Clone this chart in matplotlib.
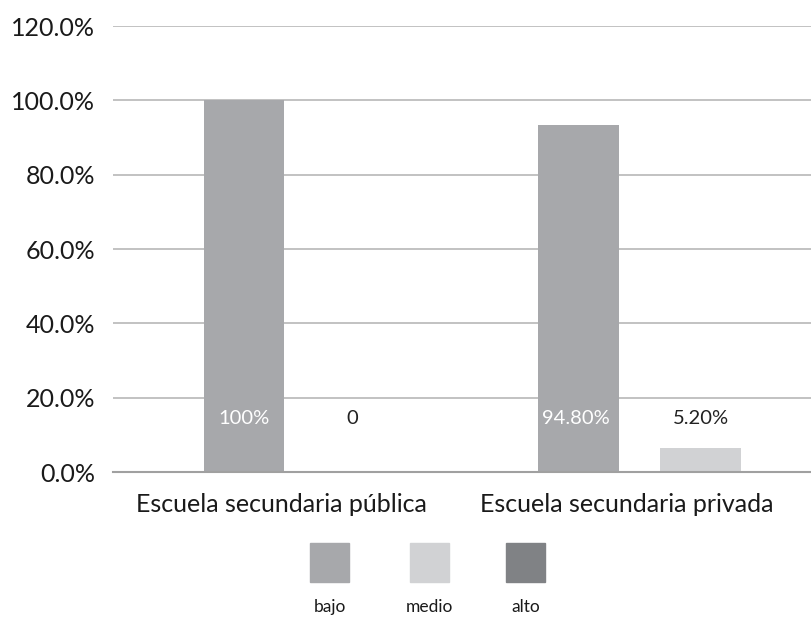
import matplotlib
matplotlib.use("Agg")
import matplotlib.pyplot as plt
from matplotlib.patches import Rectangle
import numpy as np

plt.rcParams['font.family'] = ['Lato', 'DejaVu Sans']

categories = ["Escuela secundaria pública", "Escuela secundaria privada"]
series_names = ["bajo", "medio", "alto"]
bajo = [100.0, 93.4]
medio = [0.0, 6.5]
alto = [0.0, 0.0]
bar_labels = {"bajo": ["100%", "94.80%"], "medio": ["0", "5.20%"], "alto": ["", ""]}
yticks = [0, 20, 40, 60, 80, 100, 120]
ytick_labels = ["0.0%", "20.0%", "40.0%", "60.0%", "80.0%", "100.0%", "120.0%"]

colors = {"bajo": "#a7a8ab", "medio": "#d1d2d4", "alto": "#808285"}
label_colors = {"bajo": "white", "medio": "#222222", "alto": "#222222"}

fig = plt.figure(figsize=(8.11, 6.19), dpi=100)
ax = fig.add_axes([113/811, 1-472/619, 698/811, (472-26)/619])

x = np.arange(len(categories))
w = 0.2407
off = 0.3653
values = {"bajo": bajo, "medio": medio, "alto": alto}
offsets = {"bajo": -off, "medio": 0.0, "alto": off}
label_dx = {"bajo": [0.0, -0.006], "medio": [-0.042, 0.0], "alto": [0.0, 0.0]}
for name in series_names:
    ax.bar(x + offsets[name], values[name], width=w, color=colors[name], zorder=3)
    for i in range(len(categories)):
        t = bar_labels[name][i]
        if t:
            ax.text(x[i] + offsets[name] + label_dx[name][i], 14.5, t, ha='center', va='center',
                    fontsize=14.5, color=label_colors[name], zorder=4)

ax.set_xlim(-0.7564, 1.3303)
ax.set_ylim(0, 120)
ax.set_yticks(yticks)
ax.set_yticklabels(ytick_labels, fontsize=18, color="#1a1a1a")
ax.set_xticks(x + np.array([-0.2526, -0.2212]))
ax.set_xticklabels(categories, fontsize=18, color="#1a1a1a")
ax.tick_params(axis='both', length=0)
ax.tick_params(axis='y', pad=13)
ax.tick_params(axis='x', pad=15)
ax.yaxis.grid(True, color="#bdbdbd", linewidth=1.3, zorder=0)
ax.set_axisbelow(True)
for s in ["top", "right", "left"]:
    ax.spines[s].set_visible(False)
ax.spines["bottom"].set_color("#a0a0a0")
ax.spines["bottom"].set_linewidth(1.5)
ax.spines["bottom"].set_zorder(5)

# legend (squares with labels below)
leg_x = [310, 410, 506]
for name, lx in zip(series_names, leg_x):
    fig.add_artist(Rectangle((lx/811, 1-582/619), 39/811, 39/619,
                             transform=fig.transFigure, color=colors[name]))
    fig.text((lx+19.5)/811, 1-607/619, name, ha='center', va='center',
             fontsize=12.5, color="#1a1a1a")

fig.savefig("out.png", dpi=100)
